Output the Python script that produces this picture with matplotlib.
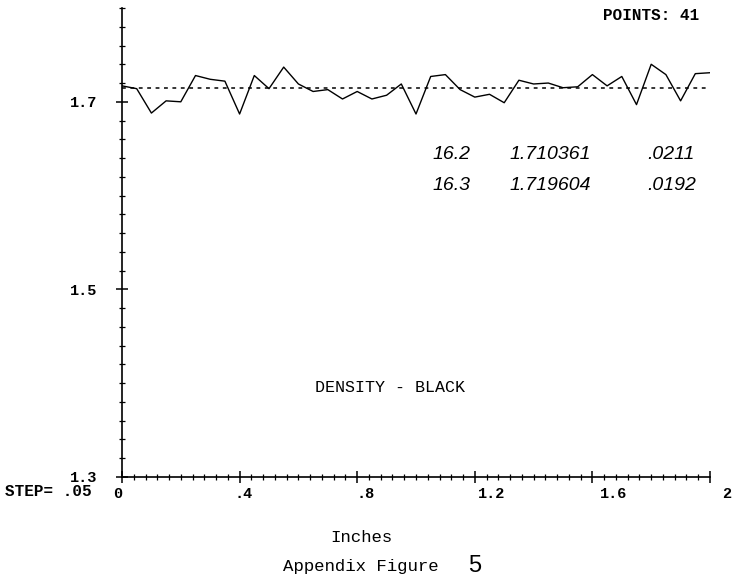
import matplotlib
matplotlib.use('Agg')
import matplotlib.pyplot as plt
from matplotlib.ticker import MultipleLocator
from matplotlib.transforms import ScaledTranslation

# density readings, one every .05 inch (41 points)
inches = [0.00, 0.05, 0.10, 0.15, 0.20, 0.25, 0.30, 0.35, 0.40, 0.45,
          0.50, 0.55, 0.60, 0.65, 0.70, 0.75, 0.80, 0.85, 0.90, 0.95,
          1.00, 1.05, 1.10, 1.15, 1.20, 1.25, 1.30, 1.35, 1.40, 1.45,
          1.50, 1.55, 1.60, 1.65, 1.70, 1.75, 1.80, 1.85, 1.90, 1.95, 2.00]
density = [1.717, 1.714, 1.688, 1.701, 1.700, 1.728, 1.724, 1.722, 1.687, 1.728,
           1.714, 1.737, 1.719, 1.711, 1.713, 1.703, 1.711, 1.703, 1.707, 1.719,
           1.687, 1.727, 1.729, 1.713, 1.705, 1.708, 1.699, 1.723, 1.719, 1.720,
           1.715, 1.716, 1.729, 1.717, 1.727, 1.697, 1.740, 1.729, 1.701, 1.730, 1.731]
mean_density = 1.715

x_ticks = [0, 0.4, 0.8, 1.2, 1.6, 2.0]
x_tick_labels = ['0', '.4', '.8', '1.2', '1.6', '2']
y_ticks = [1.3, 1.5, 1.7]
y_tick_labels = ['1.3', '1.5', '1.7']

notes = [('16.2', '1.710361', '.0211'),
         ('16.3', '1.719604', '.0192')]

W, H = 755, 582
fig = plt.figure(figsize=(W / 100, H / 100), dpi=100)
ax = fig.add_axes([122 / W, 105 / H, 588 / W, 469 / H])

ax.plot(inches, density, color='black', lw=1.0)
ax.axhline(mean_density, color='black', lw=1.1, dashes=(2.5, 3))

ax.set_xlim(0, 2)
ax.set_ylim(1.3, 1.8)
for s in ['top', 'right']:
    ax.spines[s].set_visible(False)
for s in ['left', 'bottom']:
    ax.spines[s].set_linewidth(1.2)

ax.set_xticks(x_ticks)
ax.set_xticklabels(x_tick_labels)
ax.set_yticks(y_ticks)
ax.set_yticklabels(y_tick_labels)
ax.xaxis.set_minor_locator(MultipleLocator(0.04))
ax.yaxis.set_minor_locator(MultipleLocator(0.02))
ax.tick_params(which='major', direction='inout', length=8, width=1.1,
               labelsize=11, pad=3)
ax.tick_params(which='minor', direction='inout', length=4, width=0.9)
ax.tick_params(axis='y', which='major', pad=14)

tick_font = {'family': 'Liberation Mono', 'weight': 'bold'}
for lab in ax.get_yticklabels():
    lab.set_fontfamily(tick_font['family'])
    lab.set_fontweight(tick_font['weight'])
# the plotter puts x labels on a slightly wider scale than the ticks
for val, lab in zip(x_ticks, ax.get_xticklabels()):
    lab.set_fontfamily(tick_font['family'])
    lab.set_fontweight(tick_font['weight'])
    lab.set_ha('left')
    dx = (-9 + 10.5 * val) / 100
    lab.set_transform(lab.get_transform() + ScaledTranslation(dx, 0, fig.dpi_scale_trans))


def ftext(x, y, s, **kw):
    fig.text(x / W, 1 - y / H, s, **kw)


ftext(603, 16, 'POINTS: 41', family='Liberation Mono', weight='bold',
      fontsize=11.5, va='center')
ftext(5, 492, 'STEP= .05', family='Liberation Mono', weight='bold',
      fontsize=11.5, va='center')
ftext(390, 388, 'DENSITY - BLACK', family='Liberation Mono', fontsize=12,
      ha='center', va='center')
ftext(361, 538, 'Inches', family='Liberation Mono', fontsize=12.5,
      ha='center', va='center')
ftext(283, 566, 'Appendix Figure', family='Liberation Mono', fontsize=12.5,
      va='center')
ftext(468, 566, '5', family='Liberation Sans', fontsize=17, va='center')

for i, (a, b, c) in enumerate(notes):
    y = 155 + 30 * i
    for x, s in zip([433, 510, 647], [a, b, c]):
        ftext(x, y, s, family='Liberation Sans', style='italic',
              fontsize=14, va='center')

fig.savefig('out.png', dpi=100)
